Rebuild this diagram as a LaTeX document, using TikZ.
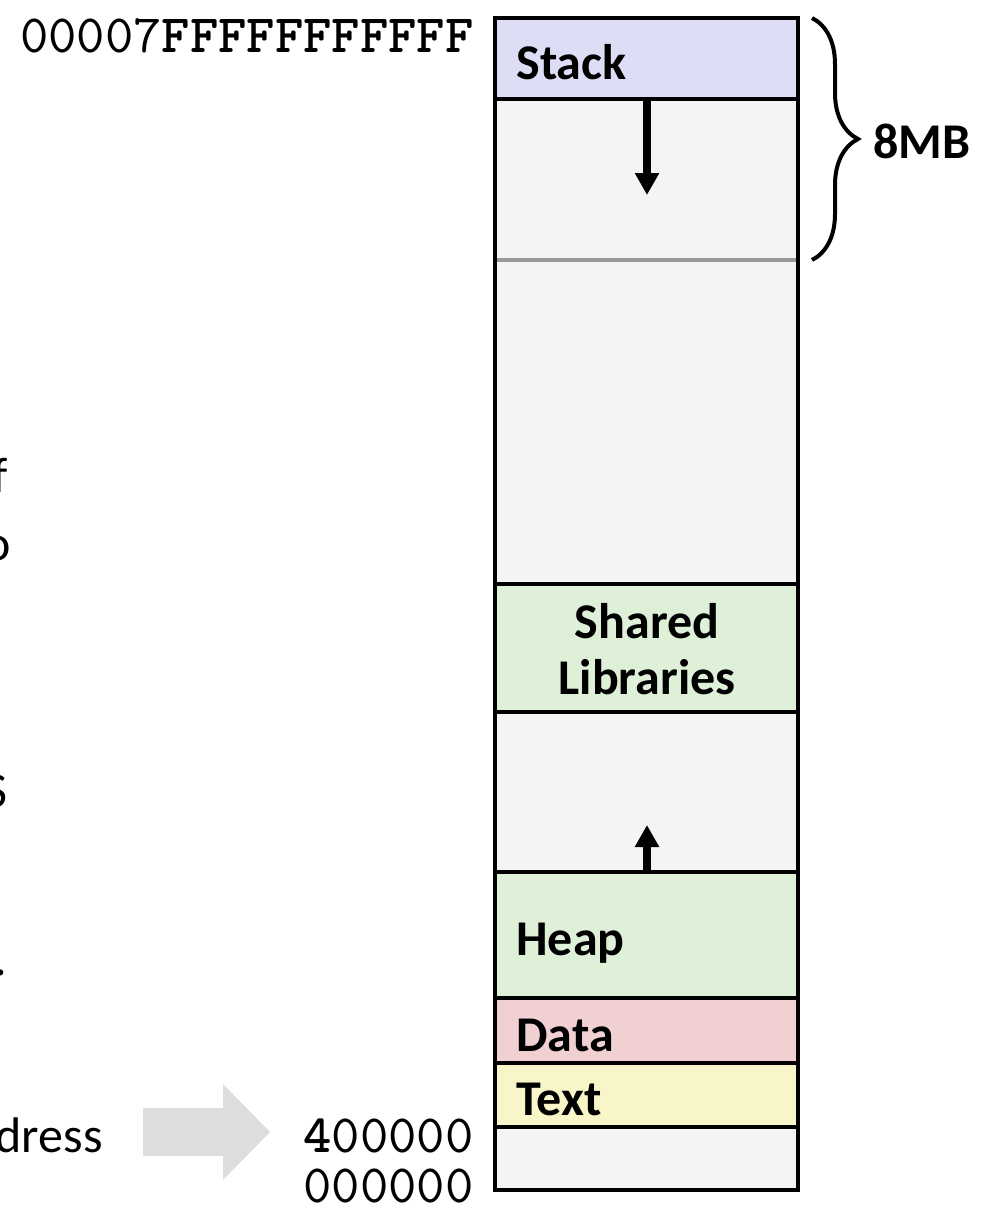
\documentclass[tikz,border=0pt]{standalone}
\usepackage{fontspec}
\setmainfont{Carlito}
\newfontfamily\addrFont{lmmono10-regular.otf}[BoldFont=lmmonolt10-bold.otf]
\usetikzlibrary{arrows.meta,decorations.pathreplacing}
\definecolor{emptyColor}{RGB}{244,244,244}
\definecolor{stackColor}{RGB}{221,221,245}
\definecolor{greenColor}{RGB}{222,240,216}
\definecolor{dataColor}{RGB}{240,208,208}
\definecolor{textColor}{RGB}{248,245,200}
\definecolor{limitColor}{RGB}{153,153,153}
\definecolor{hintColor}{RGB}{221,221,221}
\tikzstyle{memory} = [x = .5pt, y = -.5pt]
\tikzstyle{segmentStyle} = [draw=black, line width=1.9pt]
\tikzstyle{segmentLabel} = [anchor=base west, inner sep=0pt, font=\fontsize{25}{30}\selectfont\bfseries]
\tikzstyle{addrLabel} = [anchor=base east, inner sep=0pt, font=\fontsize{27}{32}\addrFont]
\tikzstyle{sideLabel} = [anchor=base east, inner sep=0pt, font=\fontsize{25}{30}\selectfont]
\tikzstyle{growArrow} = [line width=4pt, -{Triangle[width=11.5pt,length=11pt]}]
\newcommand{\colLeft}{495}
\newcommand{\colRight}{798}
\newcommand{\segment}[3]{\filldraw [segmentStyle, fill=#3] (\colLeft,#1) rectangle (\colRight,#2);}

\begin{document}
\begin{tikzpicture}[memory]
            \useasboundingbox (0,0) rectangle (981,1206);
            \clip (0,0) rectangle (981,1206);

            % segments, top to bottom
            \segment{18}{99}{stackColor}
            \segment{99}{584}{emptyColor}
            \segment{584}{712}{greenColor}
            \segment{712}{872}{emptyColor}
            \segment{872}{998}{greenColor}
            \segment{998}{1063}{dataColor}
            \segment{1063}{1127}{textColor}
            \segment{1127}{1190}{emptyColor}
            \draw [limitColor, line width=1.8pt] (497,260) -- (796,260);

            \node [segmentLabel] (stackLabel) at (516,79) {Stack};
            \node [segmentLabel, anchor=base] (sharedLabel) at (647,638) {Shared};
            \node [segmentLabel, anchor=base] (librariesLabel) at (647,694) {Libraries};
            \node [segmentLabel] (heapLabel) at (516,955) {Heap};
            \node [segmentLabel] (dataLabel) at (516,1051) {Data};
            \node [segmentLabel] (textLabel) at (516,1115) {Text};

            % growth directions
            \coordinate (stackBottom) at (647,99);
            \coordinate (stackTip) at (647,195);
            \coordinate (heapTop) at (647,872);
            \coordinate (heapTip) at (647,825);
            \draw [growArrow] (stackBottom) -- (stackTip);
            \draw [growArrow] (heapTop) -- (heapTip);

            % stack limit
            \coordinate (braceTop) at (812,18);
            \coordinate (braceBottom) at (812,260);
            \draw [line width=2pt, decorate, decoration={brace, amplitude=23pt}] (braceTop) -- (braceBottom);
            \node [segmentLabel] (limitLabel) at (873,158) {8MB};

            % addresses
            \node [addrLabel] (topAddr) at (474,52) {00007{\bfseries FFFFFFFFFFF}};
            \node [addrLabel] (textAddr) at (474,1152) {{\bfseries 4}00000};
            \node [addrLabel] (zeroAddr) at (474,1202) {000000};

            % cut-off side text
            \node [sideLabel] (sideAddress) at (103,1152) {Address};
            \fill [hintColor] (143,1108) -- (223,1108) -- (223,1084) -- (270,1132) -- (223,1180) -- (223,1156) -- (143,1156) -- cycle;
            \node [sideLabel, anchor=base] (sideF) at (0,492) {f};
            \node [sideLabel, anchor=base] (sideO) at (-2,560) {o};
            \node [sideLabel, anchor=base] (sideS) at (-4,807) {S};
            \node [sideLabel, anchor=base] (sideDot) at (1,975) {.};
          \end{tikzpicture}
\end{document}
